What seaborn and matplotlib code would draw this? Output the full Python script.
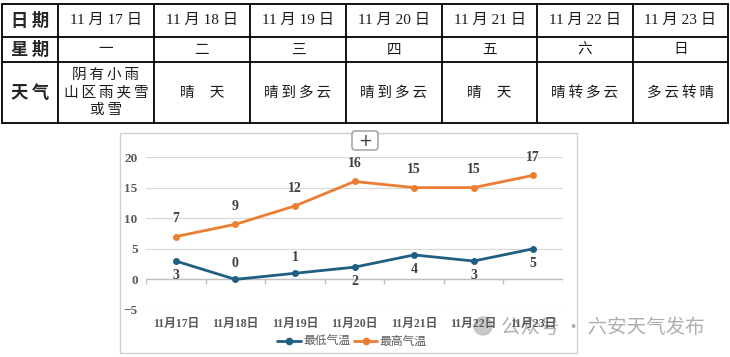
import numpy as np
import pandas as pd
import matplotlib.pyplot as plt
import seaborn as sns
from matplotlib.lines import Line2D
from matplotlib.patches import Rectangle, FancyBboxPatch, Circle

# data
dates = ['11月17日', '11月18日', '11月19日', '11月20日', '11月21日', '11月22日', '11月23日']
table_dates = ['11 月 17 日', '11 月 18 日', '11 月 19 日', '11 月 20 日',
               '11 月 21 日', '11 月 22 日', '11 月 23 日']
weekdays = ['一', '二', '三', '四', '五', '六', '日']
weather = ['阴有小雨\n山区雨夹雪\n或雪', '晴  天', '晴到多云', '晴到多云', '晴  天', '晴转多云', '多云转晴']
low_temp = [3, 0, 1, 2, 4, 3, 5]
high_temp = [7, 9, 12, 16, 15, 15, 17]

# label placement for the low series (above / below the point)
low_label_up = [False, True, True, False, False, False, False]

blue = '#1F5F82'
orange = '#ED7D31'
label_color = '#404040'
tick_color = '#595959'

sns.set_style('white')
plt.rcParams['font.family'] = ['Liberation Serif', 'Noto Sans CJK SC', 'DejaVu Sans']

fig = plt.figure(figsize=(7.3, 3.57), dpi=100)

# ---------- table on top, drawn in pixel coordinates ----------
tab = fig.add_axes([0, 0, 1, 1])
tab.set_xlim(0, 730)
tab.set_ylim(357, 0)
tab.axis('off')

col_edges = [2, 58, 154, 250, 346, 442, 537, 633, 728]
row_edges = [4, 37, 62, 123]
for x in col_edges:
    tab.plot([x, x], [row_edges[0], row_edges[-1]], color='black', lw=1.3)
for y in row_edges:
    tab.plot([col_edges[0], col_edges[-1]], [y, y], color='black', lw=1.3)


def spaced(s):
    # loose letter spacing like the original table
    return '\n'.join('\u2009'.join(line) for line in s.split('\n'))


cjk = ['Noto Sans CJK SC', 'DejaVu Sans']
row_mid = [(row_edges[i] + row_edges[i + 1]) / 2 for i in range(3)]
for r, name in enumerate(['日期', '星期', '天气']):
    tab.text(30, row_mid[r], spaced(name), ha='center', va='center', fontsize=12.5,
             fontweight='bold', family=cjk)

for i in range(7):
    cx = (col_edges[i + 1] + col_edges[i + 2]) / 2
    tab.text(cx, row_mid[0], table_dates[i], ha='center', va='center', fontsize=11,
             family=['Liberation Serif', 'Noto Sans CJK SC'], color='#1a1a1a')
    tab.text(cx, row_mid[1], weekdays[i], ha='center', va='center', fontsize=10.5,
             family=cjk, color='#1a1a1a')
    tab.text(cx, row_mid[2], spaced(weather[i]), ha='center', va='center', fontsize=10.5,
             family=cjk, color='#1a1a1a', linespacing=1.35)

# chart frame
tab.add_patch(Rectangle((120, 133), 457, 220, fill=False, edgecolor='#D0D0D0', lw=1))
# "+" button
tab.add_patch(FancyBboxPatch((352, 131), 26, 19, boxstyle='round,pad=0,rounding_size=3',
                             facecolor='white', edgecolor='#8C8C8C', lw=0.9, zorder=5))
tab.text(365, 140.5, '+', ha='center', va='center', fontsize=12, color='#404040',
         family='DejaVu Sans', zorder=6)

# ---------- line chart ----------
ax = fig.add_axes([146 / 730, 1 - 310 / 357, 417 / 730, 153 / 357])

df = pd.DataFrame({
    'date': dates * 2,
    'temp': low_temp + high_temp,
    'series': ['最低气温'] * 7 + ['最高气温'] * 7,
})
df['x'] = list(range(7)) * 2

sns.lineplot(data=df, x='x', y='temp', hue='series', palette=[blue, orange],
             marker='o', markersize=5, markeredgewidth=0, linewidth=2, ax=ax,
             legend=False, zorder=3)

ax.set_xlim(-0.5, 6.5)
ax.set_ylim(-5, 20)
ax.set_yticks(np.arange(-5, 21, 5))
ax.yaxis.grid(True, color='#D9D9D9', lw=0.9)
ax.set_axisbelow(True)
for s in ax.spines.values():
    s.set_visible(False)
ax.axhline(0, color='#BFBFBF', lw=1, zorder=1)
ax.vlines(np.arange(-0.5, 7, 1), -0.7, 0, color='#BFBFBF', lw=1, zorder=1)

ax.set_xticks(range(7))
ax.set_xticklabels(dates, fontsize=8.5, fontweight='bold', color=tick_color)
ax.tick_params(axis='x', length=0, pad=6)
ax.tick_params(axis='y', length=0, pad=6, labelsize=9.5, labelcolor=tick_color)
for t in ax.get_yticklabels():
    t.set_fontweight('bold')
ax.set_xlabel('')
ax.set_ylabel('')

for i, v in enumerate(high_temp):
    ax.annotate(str(v), (i, v), xytext=(0, 8), textcoords='offset points', ha='center',
                va='bottom', fontsize=10, fontweight='bold', color=label_color)
for i, v in enumerate(low_temp):
    dy = 7 if low_label_up[i] else -6
    ax.annotate(str(v), (i, v), xytext=(0, dy), textcoords='offset points', ha='center',
                va='bottom' if low_label_up[i] else 'top', fontsize=10,
                fontweight='bold', color=label_color)

handles = [Line2D([0], [0], color=blue, lw=2, marker='o', markersize=4.5),
           Line2D([0], [0], color=orange, lw=2, marker='o', markersize=4.5)]
fig.legend(handles, ['最低气温', '最高气温'], loc='center',
           bbox_to_anchor=(352 / 730, 1 - 342 / 357), ncol=2, frameon=False,
           fontsize=8.5, handlelength=2.0, handletextpad=0.2, columnspacing=0.3,
           labelcolor=tick_color)

# watermark
tab.add_patch(Circle((483, 326), 9, color='#BDBDBD', alpha=0.8, zorder=7))
tab.text(501, 327, '公众号 · 六安天气发布', ha='left', va='center', fontsize=14,
         family=cjk, color='#A6A6A6', alpha=0.9, zorder=7)

fig.savefig('out.png', dpi=100)
